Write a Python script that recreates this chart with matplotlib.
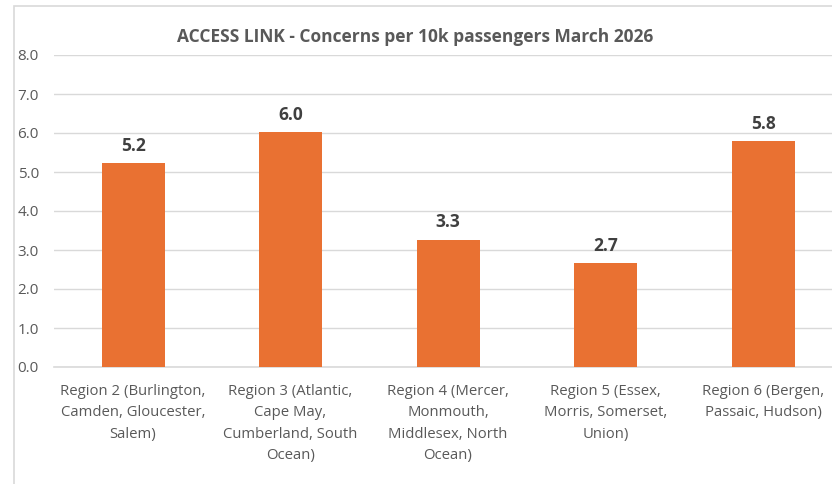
import matplotlib.pyplot as plt
from matplotlib.patches import Rectangle
import numpy as np

plt.rcParams['font.family'] = ['Open Sans', 'DejaVu Sans']

regions = [
    'Region 2 (Burlington,\nCamden, Gloucester,\nSalem)',
    'Region 3 (Atlantic,\nCape May,\nCumberland, South\nOcean)',
    'Region 4 (Mercer,\nMonmouth,\nMiddlesex, North\nOcean)',
    'Region 5 (Essex,\nMorris, Somerset,\nUnion)',
    'Region 6 (Bergen,\nPassaic, Hudson)',
]
concerns = [5.22, 6.02, 3.26, 2.66, 5.79]
y_ticks = np.arange(0, 9, 1.0)

bar_color = '#E97132'
text_color = '#595959'
grid_color = '#D9D9D9'

fig = plt.figure(figsize=(8.32, 4.84), dpi=100)
fig.patch.set_facecolor('white')

# chart frame (cropped on right / bottom like the original)
fig.patches.append(Rectangle((14 / 832, -0.1), 1.2, 1 - 6 / 484 + 0.1,
                             transform=fig.transFigure, fill=False,
                             edgecolor=grid_color, linewidth=1.2))

ax = fig.add_axes([54.25 / 832, 117 / 484, 787.5 / 832, 312 / 484])
x = np.arange(len(regions))
bars = ax.bar(x, concerns, width=0.4, color=bar_color, zorder=3)

ax.set_xlim(-0.5, len(regions) - 0.5)
ax.set_ylim(0, 8)
ax.set_yticks(y_ticks)
ax.set_yticklabels([f'{v:.1f}' for v in y_ticks], fontsize=11, color=text_color)
ax.set_xticks(x)
ax.set_xticklabels(regions, fontsize=10.7, color=text_color, linespacing=1.6)
ax.tick_params(axis='both', length=0)
ax.tick_params(axis='y', pad=11)
ax.tick_params(axis='x', pad=12)

ax.grid(axis='y', color=grid_color, linewidth=1, zorder=0)
for s in ['top', 'right', 'left']:
    ax.spines[s].set_visible(False)
ax.spines['bottom'].set_color(grid_color)
ax.spines['bottom'].set_linewidth(1.2)

for b, v in zip(bars, concerns):
    ax.text(b.get_x() + b.get_width() / 2, v + 0.22, f'{v:.1f}',
            ha='center', va='bottom', fontsize=12.5, fontweight='bold',
            color='#404040')

fig.text(415 / 832, 1 - 37 / 484, 'ACCESS LINK - Concerns per 10k passengers March 2026',
         ha='center', va='center', fontsize=12.5, fontweight='bold', color=text_color)

fig.savefig('out.png', dpi=100)
